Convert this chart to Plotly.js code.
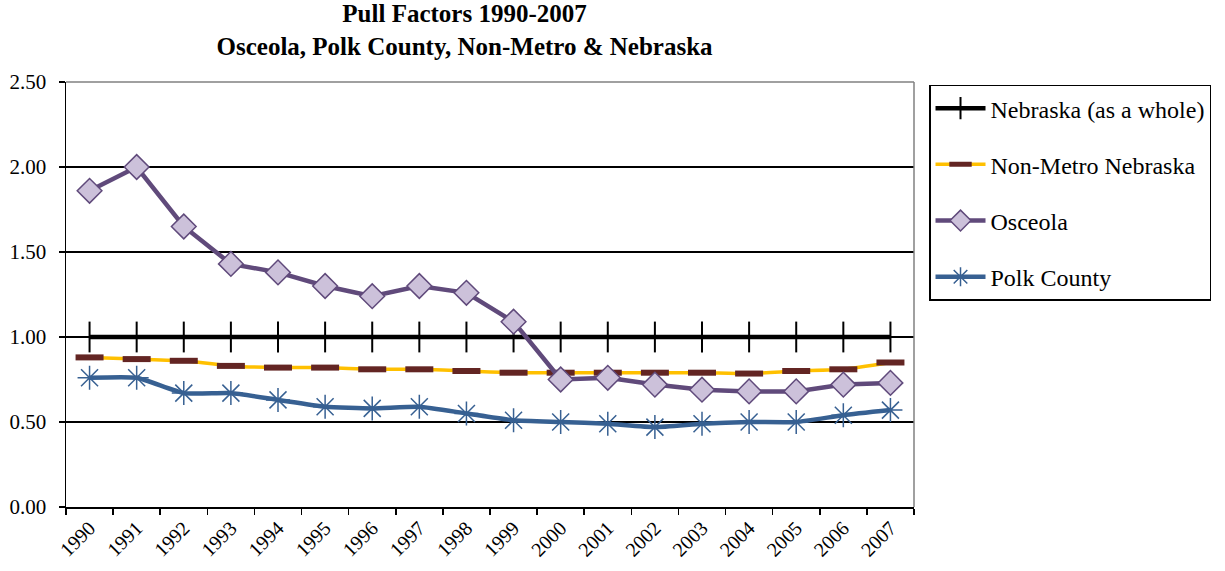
<!DOCTYPE html>
<html>
<head>
<meta charset="utf-8">
<script src="https://cdn.plot.ly/plotly-3.0.1.min.js"></script>
<style>
  html, body { margin: 0; padding: 0; background: #fff; }
  #chart { width: 1225px; height: 571px; }
</style>
</head>
<body>
<div id="chart"></div>
<script>
const years = ["1990","1991","1992","1993","1994","1995","1996","1997","1998","1999",
               "2000","2001","2002","2003","2004","2005","2006","2007"];
const nebraska = [1.00,1.00,1.00,1.00,1.00,1.00,1.00,1.00,1.00,1.00,1.00,1.00,1.00,1.00,1.00,1.00,1.00,1.00];
const nonMetro = [0.88,0.87,0.86,0.83,0.82,0.82,0.81,0.81,0.80,0.79,0.79,0.79,0.79,0.79,0.785,0.80,0.81,0.85];
const osceola  = [1.86,2.00,1.65,1.43,1.38,1.30,1.24,1.30,1.26,1.09,0.75,0.76,0.72,0.69,0.68,0.68,0.72,0.73];
const polk     = [0.76,0.76,0.67,0.67,0.63,0.59,0.58,0.59,0.55,0.51,0.50,0.49,0.47,0.49,0.50,0.50,0.54,0.57];
const yTicks = [0, 0.5, 1.0, 1.5, 2.0, 2.5];
const yTickText = ["0.00","0.50","1.00","1.50","2.00","2.50"];

const serif = "Liberation Serif, Times New Roman, serif";

const traces = [
  {
    x: years, y: nebraska, name: "Nebraska (as a whole)", type: "scatter", mode: "lines+markers",
    legendgroup: "a",
    line: {color: "#000000", width: 4.5},
    marker: {symbol: "line-ns", size: 22, line: {color: "#000000", width: 2}}
  },
  {
    x: years, y: nonMetro, name: "Non-Metro Nebraska", type: "scatter", mode: "lines+markers",
    legendgroup: "b",
    line: {color: "#FFC000", width: 3.5, shape: "spline", smoothing: 0.5},
    marker: {symbol: "line-ew", size: 20, line: {color: "#632523", width: 6}}
  },
  {
    x: years, y: osceola, name: "Osceola", type: "scatter", mode: "lines+markers",
    legendgroup: "c",
    line: {color: "#604A7B", width: 4.5},
    marker: {symbol: "diamond", size: 19, color: "#CCC1DA", line: {color: "#604A7B", width: 1.5}}
  },
  {
    x: years, y: polk, name: "Polk County", type: "scatter", mode: "lines+markers",
    legendgroup: "d",
    line: {color: "#376092", width: 4.5, shape: "spline", smoothing: 0.5},
    marker: {symbol: "asterisk-open", size: 20, color: "#376092", line: {color: "#376092", width: 1.5}}
  }
];

const layout = {
  width: 1225, height: 571,
  paper_bgcolor: "#ffffff", plot_bgcolor: "#ffffff",
  margin: {l: 66, r: 311, t: 82, b: 64, autoexpand: false},
  font: {family: serif, color: "#000000"},
  title: {
    text: "<b>Pull Factors 1990-2007</b><br><b>Osceola, Polk County, Non-Metro &amp; Nebraska</b>",
    font: {family: serif, size: 25, color: "#000"},
    x: 0.47, xanchor: "center", xref: "paper",
    y: 0.961, yanchor: "top", yref: "container"
  },
  showlegend: true,
  legend: {
    x: 1.0177, xanchor: "left", y: 0.994, yanchor: "top",
    bordercolor: "#000000", borderwidth: 1.5,
    font: {family: serif, size: 24, color: "#000"},
    tracegroupgap: 22, itemwidth: 50,
    traceorder: "grouped"
  },
  xaxis: {
    type: "category",
    range: [-0.5, 17.5],
    tickangle: -45,
    tickson: "boundaries",
    ticks: "outside", ticklen: 6, tickwidth: 1.5, tickcolor: "#000",
    showline: true, linecolor: "#000", linewidth: 1.5,
    showgrid: false, zeroline: false,
    tickfont: {family: serif, size: 20, color: "#000"}
  },
  yaxis: {
    range: [0, 2.5],
    tickvals: yTicks, ticktext: yTickText,
    ticks: "outside", ticklen: 6, tickwidth: 1.5, tickcolor: "#000",
    ticklabelstandoff: 8,
    showline: true, linecolor: "#000", linewidth: 1.5,
    showgrid: true, gridcolor: "#000", gridwidth: 1.2,
    zeroline: false,
    tickfont: {family: serif, size: 21, color: "#000"}
  },
  shapes: [
    {type: "line", xref: "paper", yref: "paper", x0: 0, x1: 1, y0: 1, y1: 1,
     line: {color: "#808080", width: 1.5}, layer: "above"},
    {type: "line", xref: "paper", yref: "paper", x0: 1, x1: 1, y0: 0, y1: 1,
     line: {color: "#808080", width: 1.5}, layer: "above"}
  ],
  hovermode: false
};

Plotly.newPlot("chart", traces, layout, {displayModeBar: false, staticPlot: true});
</script>
</body>
</html>
